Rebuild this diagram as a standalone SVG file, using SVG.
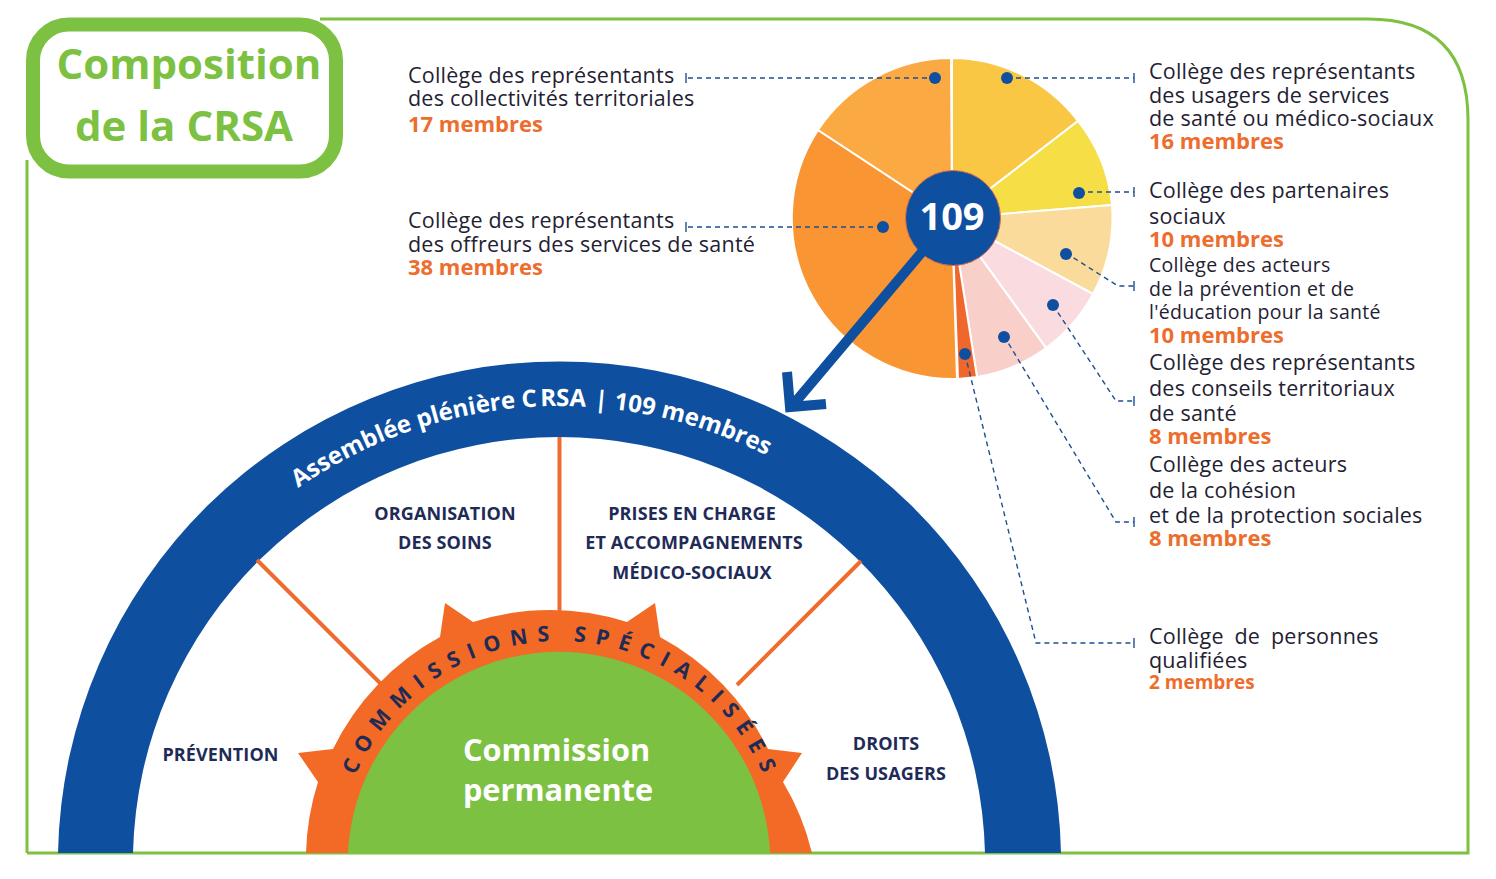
<svg xmlns="http://www.w3.org/2000/svg" width="1496" height="879" viewBox="0 0 1496 879">
<style>
text{font-family:"Open Sans","Noto Sans","Liberation Sans",sans-serif}
.t{font-size:21.5px;fill:#1f2233;letter-spacing:.22px}
.s{font-size:19.5px;fill:#1f2233;letter-spacing:.3px}
.o{font-size:22px;font-weight:700;fill:#ed6d2d}
.c{font-size:18px;font-weight:700;fill:#1f2b57;text-anchor:middle;letter-spacing:.12px}
.d{fill:none;stroke:#1d4f91;stroke-width:1.4;stroke-dasharray:5 4}
.e{fill:none;stroke:#1d4f91;stroke-width:1.4}
.dot{fill:#0f4f9f}
.w{stroke:#fff;stroke-width:2}
.ol{stroke:#ef6c2f;stroke-width:4;fill:none}
.p{font-size:30.7px;font-weight:700;fill:#fff;text-anchor:middle}
</style>
<defs>
<path id="arcB" d="M102.500 863A457 457 0 0 1 1016.500 863"/>
<path id="arcO" d="M337.500 863A222 222 0 0 1 781.500 863"/>
</defs>
<rect width="1496" height="879" fill="#fff"/>
<g id="frame"><path d="M27 853V160M320 19H1368Q1468 19 1468 120V853H27" fill="none" stroke="#7dc142" stroke-width="3"/></g>
<g id="title">
<rect x="33" y="24.5" width="303" height="147" rx="36" fill="#fff" stroke="#7dc142" stroke-width="14"/>
<text x="189" y="79" text-anchor="middle" font-size="42" font-weight="700" fill="#7dc142">Composition</text>
<text x="184" y="141" text-anchor="middle" font-size="42" font-weight="700" fill="#7dc142">de la CRSA</text>
</g>
<g id="pie">
<path class="w" fill="#f9c744" d="M952 218V58A160 160 0 0 1 1078 121Z"/>
<path class="w" fill="#f6de46" d="M952 218L1078 121A160 160 0 0 1 1112 205Z"/>
<path class="w" fill="#fbdb9b" d="M952 218L1112 205A160 160 0 0 1 1093 294Z"/>
<path class="w" fill="#fadce0" d="M952 218L1093 294A160 160 0 0 1 1046 348Z"/>
<path class="w" fill="#f9cfca" d="M952 218L1046 348A160 160 0 0 1 977 377Z"/>
<path class="w" fill="#f0672d" d="M952 218L977 377L958 379Z"/>
<path class="w" fill="#f99633" d="M952 218L957 379A161 161 0 0 1 818 130Z"/>
<path class="w" fill="#fba943" d="M952 218L818 130A160 160 0 0 1 951 58Z"/>
<circle cx="953" cy="218" r="47.500" fill="#0f4f9f" stroke="#d9704a" stroke-width="1"/>
<text x="952" y="230" text-anchor="middle" font-size="38" font-weight="700" fill="#fff">109</text>
</g>
<g id="assemblee">
<path fill="#0f4f9f" d="M58 853A501.600 501.600 0 0 1 1061 853H985A426.120 426.120 0 0 0 133 853Z"/>
<text font-size="24" font-weight="700" fill="#fff"><textPath href="#arcB" startOffset="47.800%" text-anchor="middle">Assemblée plénière C<tspan dx="3">RSA</tspan><tspan dx="2"> | 109 membres</tspan></textPath></text>
</g>
<g id="rayons">
<path class="ol" d="M559.500 437V612M257 560L382 685M861 561L737 685"/>
</g>
<g id="commissions">
<path fill="#f26a25" d="M306 853A254 254 0 0 1 318 782L298 753L333 749A254 254 0 0 1 440 637L445 603L473 622A254 254 0 0 1 627 622L655 603L660 637A254 254 0 0 1 768 749L802 753L783 782A254 254 0 0 1 812 853Z"/>
<text font-size="21.500" font-weight="700" fill="#1f2b57" letter-spacing="9.300"><textPath href="#arcO" startOffset="50.500%" text-anchor="middle">COMMISSIONS SPÉCIALISÉES</textPath></text>
</g>
<g id="permanente">
<path fill="#7dc142" d="M348 853A211.240 211.240 0 0 1 770 853Z"/>
<text class="p" x="556.500" y="761">Commission</text>
<text class="p" x="558" y="801">permanente</text>
</g>
<g id="labels-commissions">
<text class="c" x="445" y="520">ORGANISATION</text>
<text class="c" x="445" y="549">DES SOINS</text>
<text class="c" x="692" y="520">PRISES EN CHARGE</text>
<text class="c" x="694" y="549">ET ACCOMPAGNEMENTS</text>
<text class="c" x="692" y="579">MÉDICO-SOCIAUX</text>
<text class="c" x="220.500" y="761">PRÉVENTION</text>
<text class="c" x="886" y="750">DROITS</text>
<text class="c" x="886" y="780">DES USAGERS</text>
</g>
<g id="connecteurs">
<path class="d" d="M936 78H686"/><path class="e" d="M686 73V83"/>
<path class="d" d="M882 227H686"/><path class="e" d="M686 222V232"/>
<path class="d" d="M1007 78H1134"/><path class="e" d="M1134 73V83"/>
<path class="d" d="M1079 192H1134"/><path class="e" d="M1134 187V197"/>
<path class="d" d="M1066 253L1118 286H1134"/><path class="e" d="M1134 281V291"/>
<path class="d" d="M1053 305L1116 401H1134"/><path class="e" d="M1134 396V406"/>
<path class="d" d="M1004 336L1116 522H1134"/><path class="e" d="M1134 517V527"/>
<path class="d" d="M965 354L1036 643H1134"/><path class="e" d="M1134 638V648"/>
<circle class="dot" cx="935" cy="78" r="6"/>
<circle class="dot" cx="1007" cy="78" r="6"/>
<circle class="dot" cx="883" cy="227" r="6"/>
<circle class="dot" cx="1079" cy="193" r="6"/>
<circle class="dot" cx="1066" cy="254" r="6"/>
<circle class="dot" cx="1053" cy="305" r="6"/>
<circle class="dot" cx="1004" cy="337" r="6"/>
<circle class="dot" cx="965" cy="354" r="6"/>
<path d="M922 252L792 406M787 372L790 407L826 404" fill="none" stroke="#0f4f9f" stroke-width="10"/>
</g>
<g id="col-17"><text class="t" x="408" y="83">Collège des représentants</text><text class="t" x="408" y="106">des collectivités territoriales</text><text class="o" x="408" y="132">17 membres</text></g>
<g id="col-38"><text class="t" x="408" y="228">Collège des représentants</text><text class="t" x="408" y="252">des offreurs des services de santé</text><text class="o" x="408" y="275">38 membres</text></g>
<g id="col-16"><text class="t" x="1149" y="79">Collège des représentants</text><text class="t" x="1149" y="103">des usagers de services</text><text class="t" x="1149" y="126">de santé ou médico-sociaux</text><text class="o" x="1149" y="149">16 membres</text></g>
<g id="col-par"><text class="t" x="1149" y="198">Collège des partenaires</text><text class="t" x="1149" y="224">sociaux</text><text class="o" x="1149" y="247">10 membres</text></g>
<g id="col-prev"><text class="s" x="1149" y="272">Collège des acteurs</text><text class="s" x="1149" y="296">de la prévention et de</text><text class="s" x="1149" y="319">l'éducation pour la santé</text><text class="o" x="1149" y="343">10 membres</text></g>
<g id="col-terr"><text class="t" x="1149" y="370">Collège des représentants</text><text class="t" x="1149" y="396">des conseils territoriaux</text><text class="t" x="1149" y="421">de santé</text><text class="o" x="1149" y="444">8 membres</text></g>
<g id="col-coh"><text class="t" x="1149" y="472">Collège des acteurs</text><text class="t" x="1149" y="498">de la cohésion</text><text class="t" x="1149" y="523">et de la protection sociales</text><text class="o" x="1149" y="546">8 membres</text></g>
<g id="col-pq"><text class="t" x="1149" y="644" word-spacing="5">Collège de personnes</text><text class="t" x="1149" y="668">qualifiées</text><text class="o" x="1149" y="689" style="font-size:19px">2 membres</text></g>
</svg>
